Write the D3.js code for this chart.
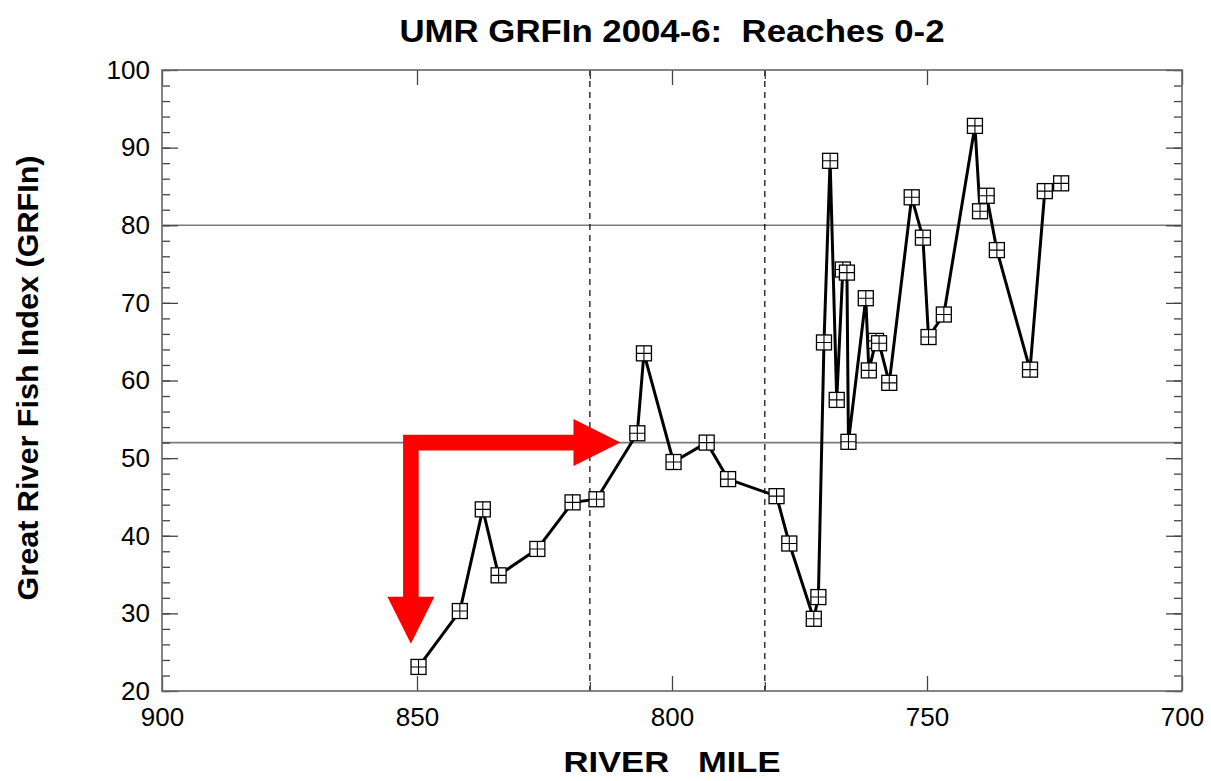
<!DOCTYPE html>
<html>
<head>
<meta charset="utf-8">
<title>UMR GRFIn 2004-6</title>
<script src="https://d3js.org/d3.v7.min.js"></script>
<style>
  body { margin: 0; background: #fff; }
  svg { display: block; font-family: "Liberation Sans", Arial, sans-serif; }
  .axis path { display: none; }
  .axis line { stroke: #444; stroke-width: 1.3; }
  .axis text { font-size: 26px; fill: #000; }
  .keep { white-space: pre; }
</style>
</head>
<body>
<script>
// river mile (x) and GRFIn score (y), upstream -> downstream
var miles = [849.7, 841.6, 837.1, 834.0, 826.4, 819.5, 814.8, 806.8, 805.5, 799.7,
             793.2, 789.0, 779.5, 777.0, 772.2, 771.3, 770.2, 769.0, 767.7, 766.5,
             765.7, 765.4, 762.0, 761.4, 760.0, 759.4, 757.4, 753.0, 750.8, 749.7,
             746.7, 740.6, 739.6, 738.3, 736.3, 729.8, 726.9, 723.7];
var grfin = [23.1, 30.3, 43.4, 34.9, 38.3, 44.3, 44.7, 53.2, 63.5, 49.5,
             52.0, 47.3, 45.1, 39.0, 29.3, 32.1, 64.9, 88.3, 57.5, 74.3,
             73.9, 52.1, 70.6, 61.3, 65.1, 64.8, 59.7, 83.6, 78.4, 65.6,
             68.5, 92.8, 81.8, 83.8, 76.8, 61.4, 84.4, 85.4];

var xTicks = [900, 850, 800, 750, 700];
var yTicks = [20, 30, 40, 50, 60, 70, 80, 90, 100];
var reachBounds = [816.1, 781.8];   // dashed lines
var refLines = [80, 52];            // solid gray lines

// red annotation arrow: up from the river mile, across at score 52
var arrowMile = 851.2, arrowTipScore = 26.1, arrowTipMile = 810.1, arrowScore = 52;

var W = 1211, H = 781;
var m = {left: 162, right: 29, top: 70, bottom: 90};
var w = W - m.left - m.right, h = H - m.top - m.bottom;

var svg = d3.select('body').append('svg')
  .attr('width', W)
  .attr('height', H);

var g = svg.append('g').attr('transform', 'translate(' + m.left + ',' + m.top + ')');

var x = d3.scaleLinear().domain([900, 700]).range([0, w]);
var y = d3.scaleLinear().domain([20, 100]).range([h, 0]);

// reference lines
g.selectAll('.ref').data(refLines).enter().append('line')
  .attr('x1', 0).attr('x2', w)
  .attr('y1', function(d) { return y(d); })
  .attr('y2', function(d) { return y(d); })
  .attr('stroke', '#7a7a7a').attr('stroke-width', 1.6);

g.selectAll('.reach').data(reachBounds).enter().append('line')
  .attr('x1', function(d) { return x(d); })
  .attr('x2', function(d) { return x(d); })
  .attr('y1', 0).attr('y2', h)
  .attr('stroke', '#000').attr('stroke-width', 1.2)
  .attr('stroke-dasharray', '6,5');

// axes, ticks pointing inward on all four sides
var minorY = d3.range(20, 101, 2);
g.append('g').attr('class', 'axis')
  .call(d3.axisLeft(y).tickValues(minorY).tickSize(-8).tickFormat(''));
g.append('g').attr('class', 'axis').attr('transform', 'translate(' + w + ',0)')
  .call(d3.axisRight(y).tickValues(minorY).tickSize(-8).tickFormat(''));
g.append('g').attr('class', 'axis')
  .call(d3.axisLeft(y).tickValues(yTicks).tickSize(-16).tickPadding(12).tickFormat(d3.format('d')));
g.append('g').attr('class', 'axis').attr('transform', 'translate(' + w + ',0)')
  .call(d3.axisRight(y).tickValues(yTicks).tickSize(-16).tickFormat(''));

g.append('g').attr('class', 'axis').attr('transform', 'translate(0,' + h + ')')
  .call(d3.axisBottom(x).tickValues(xTicks).tickSize(-15).tickPadding(17).tickFormat(d3.format('d')));
g.append('g').attr('class', 'axis')
  .call(d3.axisTop(x).tickValues(xTicks).tickSize(-15).tickFormat(''));
g.append('g').attr('class', 'axis').attr('transform', 'translate(0,' + h + ')')
  .call(d3.axisBottom(x).tickValues(reachBounds).tickSize(-9).tickFormat(''));
g.append('g').attr('class', 'axis')
  .call(d3.axisTop(x).tickValues(reachBounds).tickSize(-9).tickFormat(''));

// frame
g.append('rect')
  .attr('width', w).attr('height', h)
  .attr('fill', 'none').attr('stroke', '#666').attr('stroke-width', 1.6);

// red arrow
var cx = x(arrowMile), cy = y(arrowScore), tx = x(arrowTipMile), ty = y(arrowTipScore);
var t = 7.8, hw = 23.5, hl = 47;
var arrowPts = [
  [cx - t, cy - t], [tx - hl, cy - t], [tx - hl, cy - hw], [tx, cy],
  [tx - hl, cy + hw], [tx - hl, cy + t], [cx + t, cy + t], [cx + t, ty - hl],
  [cx + hw, ty - hl], [cx, ty], [cx - hw, ty - hl], [cx - t, ty - hl]
];
g.append('polygon')
  .attr('points', arrowPts.map(function(p) { return p.join(','); }).join(' '))
  .attr('fill', '#ff0000');

// data line and markers
var pts = miles.map(function(d, i) { return [d, grfin[i]]; });
var line = d3.line()
  .x(function(d) { return x(d[0]); })
  .y(function(d) { return y(d[1]); });

g.append('path')
  .datum(pts)
  .attr('d', line)
  .attr('fill', 'none')
  .attr('stroke', '#000')
  .attr('stroke-width', 3)
  .attr('stroke-linejoin', 'round');

var s = 7.5;
var mk = g.selectAll('.mk').data(pts).enter().append('g')
  .attr('transform', function(d) { return 'translate(' + x(d[0]) + ',' + y(d[1]) + ')'; });
mk.append('rect')
  .attr('x', -s).attr('y', -s).attr('width', 2 * s).attr('height', 2 * s)
  .attr('fill', '#fff').attr('stroke', '#000').attr('stroke-width', 1.3);
mk.append('path')
  .attr('d', 'M0,' + (-s) + 'V' + s + 'M' + (-s) + ',0H' + s)
  .attr('stroke', '#000').attr('stroke-width', 1.1);

// titles
svg.append('text')
  .attr('class', 'keep')
  .attr('x', 672).attr('y', 42)
  .attr('text-anchor', 'middle')
  .attr('font-size', 31).attr('font-weight', 'bold')
  .attr('textLength', 545).attr('lengthAdjust', 'spacingAndGlyphs')
  .text('UMR GRFIn 2004-6:  Reaches 0-2');

svg.append('text')
  .attr('transform', 'translate(38,378) rotate(-90)')
  .attr('text-anchor', 'middle')
  .attr('font-size', 30).attr('font-weight', 'bold')
  .attr('textLength', 445).attr('lengthAdjust', 'spacingAndGlyphs')
  .text('Great River Fish Index (GRFIn)');

svg.append('text')
  .attr('class', 'keep')
  .attr('x', 672).attr('y', 772)
  .attr('text-anchor', 'middle')
  .attr('font-size', 30).attr('font-weight', 'bold')
  .attr('textLength', 217).attr('lengthAdjust', 'spacingAndGlyphs')
  .text('RIVER   MILE');
</script>
</body>
</html>
